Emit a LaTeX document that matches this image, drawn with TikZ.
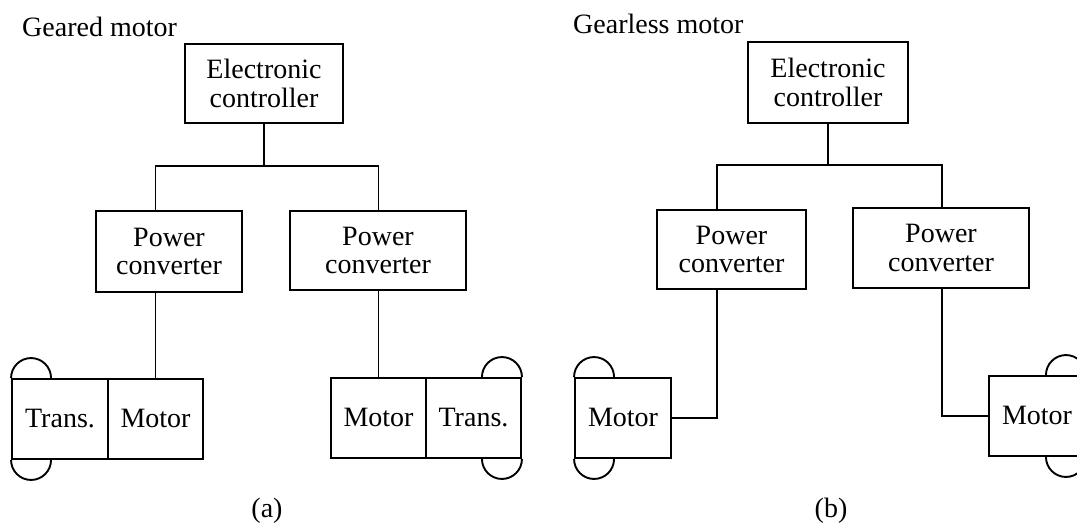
\documentclass[tikz,border=0pt]{standalone}
\usepackage{fontspec}
\setmainfont{Liberation Serif}
\begin{document}
\begin{tikzpicture}[x=1pt,y=-1pt,
  every node/.style={font=\fontsize{28}{28.5}\selectfont},
  blk/.style={draw,line width=1.9pt,rectangle,inner sep=0pt,align=center},
  one/.style={text height=20pt,text depth=4pt},
  wire/.style={line width=1.9pt},
  lbl/.style={inner sep=0pt}]
\useasboundingbox (0,0) rectangle (1077,523);
\clip (0,0) rectangle (1077,523);
% ---------- (a) geared motor ----------
\node[lbl,anchor=base west] (tA) at (22,36) {Geared motor};
\node[blk,minimum width=158pt,minimum height=79pt] (ecA) at (264,83.5) {Electronic\\controller};
\node[blk,minimum width=146pt,minimum height=81pt] (pcA1) at (169,251.5) {Power\\converter};
\node[blk,minimum width=176pt,minimum height=79pt] (pcA2) at (378,250.5) {Power\\converter};
\node[blk,one,minimum width=96pt,minimum height=80pt] (trA1) at (60,419) {Trans.};
\node[blk,one,minimum width=95pt,minimum height=80pt] (moA1) at (155.5,419) {Motor};
\node[blk,one,minimum width=95pt,minimum height=80pt] (moA2) at (378.5,418) {Motor};
\node[blk,one,minimum width=95pt,minimum height=80pt] (trA2) at (473.5,418) {Trans.};
\coordinate (jA) at (264,166);
\draw[wire] (ecA.south) -- (jA);
\draw[wire] (moA1.north |- pcA1.north) |- (jA) -| (moA2.north |- pcA2.north);
\draw[wire] (moA1.north |- pcA1.south) -- (moA1.north);
\draw[wire] (moA2.north |- pcA2.south) -- (moA2.north);
% wheels
\draw[wire] (trA1.north west) arc[start angle=180,end angle=360,radius=20];
\draw[wire] (trA1.south west) arc[start angle=180,end angle=0,radius=20];
\draw[wire] (trA2.north east) arc[start angle=360,end angle=180,radius=20];
\draw[wire] (trA2.south east) arc[start angle=0,end angle=180,radius=20];
\node[lbl] (capA) at (267,511) {(a)};
% ---------- (b) gearless motor ----------
\node[lbl,anchor=base west] (tB) at (573,33) {Gearless motor};
\node[blk,minimum width=160pt,minimum height=81pt] (ecB) at (828,82.5) {Electronic\\controller};
\node[blk,minimum width=149pt,minimum height=79pt] (pcB1) at (731.5,249.5) {Power\\converter};
\node[blk,minimum width=176pt,minimum height=80pt] (pcB2) at (941,248) {Power\\converter};
\node[blk,one,minimum width=96pt,minimum height=80pt] (moB1) at (623,418) {Motor};
\node[blk,one,minimum width=96pt,minimum height=80pt] (moB2) at (1037,416) {Motor};
\coordinate (jB) at (828,165);
\coordinate (xB1) at (717,0);
\coordinate (xB2) at (942,0);
\draw[wire] (ecB.south) -- (jB);
\draw[wire] (xB1 |- pcB1.north) |- (jB) -| (xB2 |- pcB2.north);
\draw[wire] (xB1 |- pcB1.south) |- (moB1.east);
\draw[wire] (xB2 |- pcB2.south) |- (moB2.west);
\draw[wire] (moB1.north west) arc[start angle=180,end angle=360,radius=20];
\draw[wire] (moB1.south west) arc[start angle=180,end angle=0,radius=20];
\draw[wire] (moB2.north east) arc[start angle=360,end angle=180,radius=20];
\draw[wire] (moB2.south east) arc[start angle=0,end angle=180,radius=20];
\node[lbl] (capB) at (831,511) {(b)};
\end{tikzpicture}
\end{document}
